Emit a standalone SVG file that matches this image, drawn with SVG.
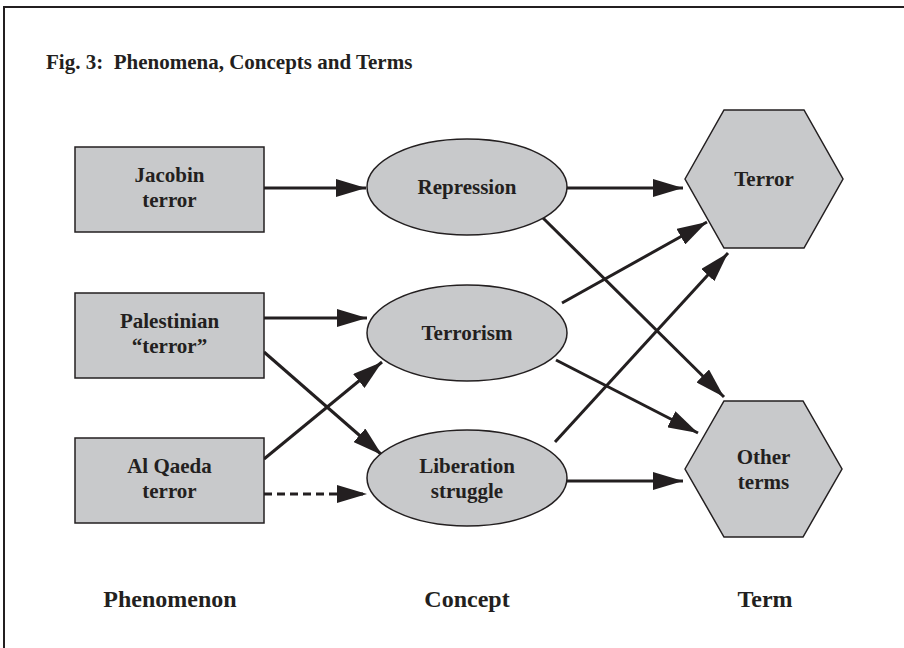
<svg xmlns="http://www.w3.org/2000/svg" width="904" height="648" viewBox="0 0 904 648">
<style>
.bg{fill:#ffffff}
.frame{fill:none;stroke:#231f20;stroke-width:2}
.node{fill:#c8c9cb;stroke:#231f20;stroke-width:1.5}
.t{font-family:"Liberation Serif","Times New Roman",serif;font-weight:bold;font-size:21px;fill:#231f20;text-anchor:middle}
.title{font-family:"Liberation Serif","Times New Roman",serif;font-weight:bold;font-size:21px;fill:#231f20;white-space:pre}
.lab{font-family:"Liberation Serif","Times New Roman",serif;font-weight:bold;font-size:24px;fill:#231f20;text-anchor:middle}
.c{fill:none;stroke:#231f20;stroke-width:3;marker-end:url(#ah)}
.d{stroke-dasharray:8 5}
</style>
<defs>
<marker id="ah" markerWidth="10" markerHeight="6" refX="10" refY="3" orient="auto" markerUnits="strokeWidth" viewBox="0 0 10 6">
<path d="M0,0 L10,3 L0,6 Z" fill="#231f20"/>
</marker>
</defs>
<rect class="bg" x="0" y="0" width="904" height="648"/>
<path class="frame" d="M4,648 V7 H904"/>
<text class="title" x="46" y="69" xml:space="preserve">Fig. 3:  Phenomena, Concepts and Terms</text>

<g id="connectors">
<line class="c" x1="264" y1="188" x2="366" y2="188"/>
<line class="c" x1="567" y1="188" x2="683" y2="188"/>
<line class="c" x1="543" y1="218" x2="724" y2="397"/>
<line class="c" x1="264" y1="318" x2="367" y2="318"/>
<line class="c" x1="264" y1="352" x2="382" y2="455"/>
<line class="c" x1="264" y1="459" x2="382" y2="362"/>
<line class="c d" x1="264" y1="494" x2="367" y2="494"/>
<line class="c" x1="562" y1="303" x2="707" y2="222"/>
<line class="c" x1="556" y1="360" x2="698" y2="433"/>
<line class="c" x1="555" y1="442" x2="728" y2="253"/>
<line class="c" x1="567" y1="481" x2="683" y2="481"/>
</g>

<g id="jacobin">
<rect class="node" x="75" y="147" width="189" height="85"/>
<text class="t" x="169.5" y="182">Jacobin</text>
<text class="t" x="169.5" y="207">terror</text>
</g>
<g id="palestinian">
<rect class="node" x="75" y="293" width="189" height="85"/>
<text class="t" x="169.5" y="328">Palestinian</text>
<text class="t" x="169.5" y="353">“terror”</text>
</g>
<g id="alqaeda">
<rect class="node" x="75" y="438" width="189" height="85"/>
<text class="t" x="169.5" y="473">Al Qaeda</text>
<text class="t" x="169.5" y="498">terror</text>
</g>

<g id="repression">
<ellipse class="node" cx="467" cy="187" rx="100" ry="48"/>
<text class="t" x="467" y="194">Repression</text>
</g>
<g id="terrorism">
<ellipse class="node" cx="467" cy="333" rx="100" ry="48"/>
<text class="t" x="467" y="340">Terrorism</text>
</g>
<g id="liberation">
<ellipse class="node" cx="467" cy="478" rx="100" ry="48"/>
<text class="t" x="467" y="473">Liberation</text>
<text class="t" x="467" y="498">struggle</text>
</g>

<g id="terror">
<polygon class="node" points="685,179 724,110 804,110 843,179 804,248 724,248"/>
<text class="t" x="764" y="186">Terror</text>
</g>
<g id="otherterms">
<polygon class="node" points="685,469 724,401 803,401 842,469 803,537 724,537"/>
<text class="t" x="763.5" y="464">Other</text>
<text class="t" x="763.5" y="489">terms</text>
</g>

<text class="lab" x="170" y="607">Phenomenon</text>
<text class="lab" x="467" y="607">Concept</text>
<text class="lab" x="765" y="607">Term</text>
</svg>
